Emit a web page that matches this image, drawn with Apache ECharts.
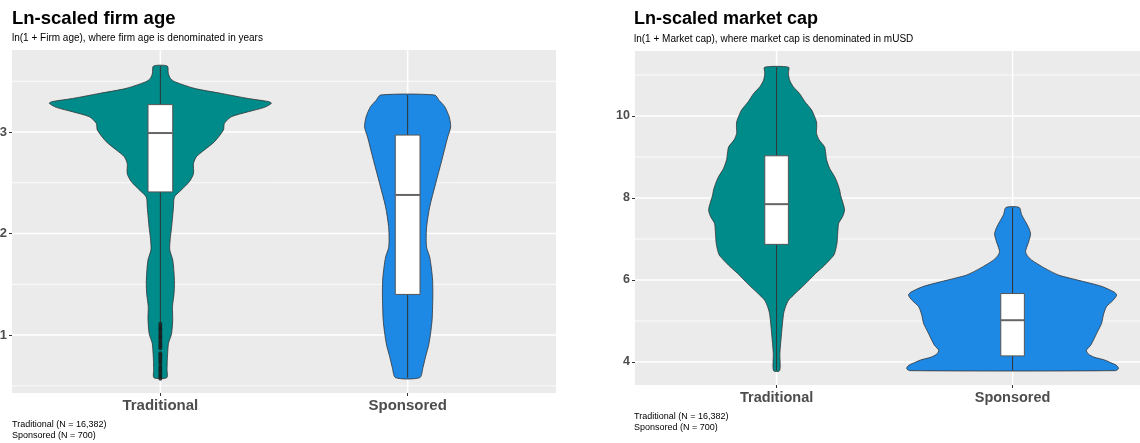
<!DOCTYPE html>
<html>
<head>
<meta charset="utf-8">
<script src="https://cdn.jsdelivr.net/npm/echarts@6/dist/echarts.min.js"></script>
<style>
  html, body { margin: 0; padding: 0; background: #fff; }
  #chart { width: 1140px; height: 443px; }
</style>
</head>
<body>
<div id="chart"></div>
<script>
// Groups compared in both panels
const groups = ['Traditional', 'Sponsored'];
const groupColors = ['#008B8B', '#1E88E5'];

// Axis ticks
const ageTicks = [1, 2, 3];
const ageMinorTicks = [0.5, 1.5, 2.5, 3.5];
const capTicks = [4, 6, 8, 10];
const capMinorTicks = [5, 7, 9, 11];

// Violin outlines: [value, half-width of the density in category units]
const ageTraditionalViolin = [
  [0.58, 0.026], [0.66, 0.027], [0.75, 0.028], [0.84, 0.030], [0.92, 0.033], [1.01, 0.045],
  [1.15, 0.050], [1.28, 0.049], [1.40, 0.055], [1.51, 0.057], [1.62, 0.055], [1.74, 0.050],
  [1.84, 0.038], [1.95, 0.040], [2.05, 0.045], [2.15, 0.049], [2.26, 0.053], [2.36, 0.057],
  [2.43, 0.085], [2.51, 0.117], [2.59, 0.134], [2.69, 0.134], [2.757, 0.146], [2.823, 0.178],
  [2.905, 0.219], [3.02, 0.255], [3.085, 0.259], [3.15, 0.287], [3.20, 0.356], [3.243, 0.421],
  [3.283, 0.449], [3.30, 0.437], [3.33, 0.356], [3.38, 0.247], [3.43, 0.138], [3.496, 0.058],
  [3.53, 0.040], [3.58, 0.032], [3.65, 0.028]
];
const ageSponsoredViolin = [
  [0.58, 0.049], [0.68, 0.062], [0.79, 0.073], [0.90, 0.085], [1.02, 0.093], [1.15, 0.099],
  [1.28, 0.101], [1.40, 0.102], [1.54, 0.101], [1.66, 0.096], [1.77, 0.089], [1.86, 0.077],
  [1.95, 0.075], [2.07, 0.077], [2.26, 0.089], [2.49, 0.113], [2.72, 0.138], [2.95, 0.162],
  [3.05, 0.174], [3.15, 0.168], [3.25, 0.150], [3.31, 0.128], [3.365, 0.109]
];
const capTraditionalViolin = [
  [3.79, 0.013], [4.21, 0.014], [4.70, 0.021], [5.00, 0.026], [5.19, 0.030], [5.35, 0.038],
  [5.51, 0.051], [5.68, 0.080], [5.84, 0.110], [6.00, 0.138], [6.16, 0.165], [6.33, 0.198],
  [6.49, 0.225], [6.61, 0.243], [6.73, 0.250], [6.90, 0.256], [7.06, 0.258], [7.22, 0.260],
  [7.38, 0.263], [7.55, 0.280], [7.71, 0.288], [7.90, 0.280], [8.05, 0.272], [8.20, 0.267],
  [8.36, 0.258], [8.52, 0.246], [8.72, 0.225], [8.93, 0.212], [9.10, 0.208], [9.25, 0.203],
  [9.42, 0.180], [9.58, 0.169], [9.72, 0.170], [9.86, 0.169], [10.00, 0.160], [10.15, 0.148],
  [10.35, 0.120], [10.55, 0.097], [10.72, 0.070], [10.88, 0.055], [11.05, 0.050], [11.19, 0.051]
];
const capSponsoredViolin = [
  [3.79, 0.436], [3.84, 0.449], [3.92, 0.440], [4.00, 0.410], [4.05, 0.390], [4.12, 0.345],
  [4.20, 0.320], [4.29, 0.313], [4.40, 0.330], [4.54, 0.343], [4.74, 0.360], [4.94, 0.377],
  [5.15, 0.385], [5.35, 0.398], [5.50, 0.425], [5.63, 0.441], [5.70, 0.432], [5.84, 0.380],
  [5.95, 0.310], [6.05, 0.240], [6.12, 0.195], [6.29, 0.136], [6.49, 0.080], [6.60, 0.062],
  [6.69, 0.055], [6.80, 0.060], [6.93, 0.068], [7.05, 0.074], [7.14, 0.076], [7.28, 0.068],
  [7.42, 0.055], [7.60, 0.038], [7.77, 0.028]
];

// Box summaries: [lower whisker, Q1, median, Q3, upper whisker]
const ageTraditionalBox = [1.12, 2.41, 2.99, 3.27, 3.65];
const ageSponsoredBox = [0.58, 1.40, 2.38, 2.97, 3.365];
const capTraditionalBox = [3.79, 6.87, 7.85, 9.03, 11.19];
const capSponsoredBox = [3.79, 4.15, 5.02, 5.67, 7.77];

// Points beyond the lower whisker (Traditional firm age)
const ageTraditionalOutliers = [
  1.11, 1.09, 1.07, 1.06, 1.04, 1.02, 1.00, 0.98, 0.97, 0.95, 0.93, 0.91, 0.89, 0.87,
  0.82, 0.80, 0.78, 0.76, 0.74, 0.72, 0.69, 0.67, 0.65, 0.63, 0.61, 0.59, 0.57
];

const panels = [
  {
    violins: [ageTraditionalViolin, ageSponsoredViolin],
    boxes: [ageTraditionalBox, ageSponsoredBox],
    ticks: ageTicks, minor: ageMinorTicks,
    yMin: 0.429, yMax: 3.808, xMax: 2.6,
    grid: { left: 12, top: 50, right: 584, bottom: 50 },
    tickFont: 13, catFont: 15
  },
  {
    violins: [capTraditionalViolin, capSponsoredViolin],
    boxes: [capTraditionalBox, capSponsoredBox],
    ticks: capTicks, minor: capMinorTicks,
    yMin: 3.44, yMax: 11.585, xMax: 2.54,
    grid: { left: 635, top: 51, right: 0, bottom: 58 },
    tickFont: 12.5, catFont: 14.5
  }
];

const FONT = '"Liberation Sans", Arial, sans-serif';
const catPositions = groups.map((_, i) => i + 1);

function gridLinesItem(params, api) {
  const cs = params.coordSys;
  const val = api.value(0), kind = api.value(1);
  if (kind === 2) {
    const x = api.coord([val, 0])[0];
    return { type: 'line', shape: { x1: x, y1: cs.y, x2: x, y2: cs.y + cs.height },
      style: { stroke: '#ffffff', lineWidth: 1.5 } };
  }
  const y = api.coord([1, val])[1];
  return { type: 'line', shape: { x1: cs.x, y1: y, x2: cs.x + cs.width, y2: y },
    style: { stroke: '#ffffff', lineWidth: kind === 0 ? 1.5 : 0.8 } };
}

function violinItem(profiles) {
  return function (params, api) {
    const g = api.value(0);
    const prof = profiles[g];
    const cx = g + 1;
    const right = prof.map(([v, w]) => api.coord([cx + w, v]));
    const left = prof.slice().reverse().map(([v, w]) => api.coord([cx - w, v]));
    return {
      type: 'polygon',
      shape: { points: right.concat(left), smooth: 0.25 },
      style: { fill: groupColors[g], stroke: '#333333', lineWidth: 0.8 }
    };
  };
}

function boxItem(stats) {
  return function (params, api) {
    const g = api.value(0);
    const [lo, q1, med, q3, hi] = stats[g];
    const cx = g + 1, hw = 0.05;
    const top = api.coord([cx, hi]), bot = api.coord([cx, lo]);
    const a = api.coord([cx - hw, q3]), b = api.coord([cx + hw, q1]);
    const m1 = api.coord([cx - hw, med]), m2 = api.coord([cx + hw, med]);
    return {
      type: 'group',
      children: [
        { type: 'line', shape: { x1: top[0], y1: top[1], x2: bot[0], y2: bot[1] },
          style: { stroke: '#333333', lineWidth: 1 } },
        { type: 'rect', shape: { x: a[0], y: a[1], width: b[0] - a[0], height: b[1] - a[1] },
          style: { fill: '#ffffff', stroke: '#555555', lineWidth: 1 } },
        { type: 'line', shape: { x1: m1[0], y1: m1[1], x2: m2[0], y2: m2[1] },
          style: { stroke: '#666666', lineWidth: 2 } }
      ]
    };
  };
}

const option = {
  animation: false,
  backgroundColor: '#ffffff',
  grid: panels.map(p => Object.assign({
    show: true, backgroundColor: '#EBEBEB', borderWidth: 0,
    containLabel: false, outerBoundsMode: 'none'
  }, p.grid)),
  xAxis: panels.map((p, i) => ({
    type: 'value', gridIndex: i, min: 0.4, max: p.xMax,
    axisLine: { show: false },
    splitLine: { show: false },
    axisTick: { show: true, customValues: catPositions, length: 3, lineStyle: { color: '#333333', width: 1 } },
    axisLabel: {
      customValues: catPositions, margin: 5,
      formatter: v => groups[Math.round(v) - 1] || '',
      fontFamily: FONT, fontWeight: 'bold', fontSize: p.catFont, color: '#4D4D4D'
    }
  })),
  yAxis: panels.map((p, i) => ({
    type: 'value', gridIndex: i, min: p.yMin, max: p.yMax,
    axisLine: { show: false },
    splitLine: { show: false },
    axisTick: { show: true, customValues: p.ticks, length: 3, lineStyle: { color: '#333333', width: 1 } },
    axisLabel: {
      customValues: p.ticks, margin: 5,
      fontFamily: FONT, fontWeight: 'bold', fontSize: p.tickFont, color: '#4D4D4D'
    }
  })),
  series: []
};

panels.forEach((p, i) => {
  const gridData = p.ticks.map(v => [v, 0])
    .concat(p.minor.map(v => [v, 1]))
    .concat(catPositions.map(v => [v, 2]));
  option.series.push({
    type: 'custom', xAxisIndex: i, yAxisIndex: i, z: 1, silent: true,
    renderItem: gridLinesItem, data: gridData, encode: { x: 0 }
  });
  option.series.push({
    type: 'custom', xAxisIndex: i, yAxisIndex: i, z: 2, silent: true,
    renderItem: violinItem(p.violins), data: groups.map((_, g) => [g]), encode: { x: 0 }
  });
  option.series.push({
    type: 'custom', xAxisIndex: i, yAxisIndex: i, z: 3, silent: true,
    renderItem: boxItem(p.boxes), data: groups.map((_, g) => [g]), encode: { x: 0 }
  });
});

option.series.push({
  type: 'scatter', xAxisIndex: 0, yAxisIndex: 0, z: 4, silent: true,
  symbolSize: 4, itemStyle: { color: '#1a1a1a' },
  data: ageTraditionalOutliers.map(v => [1, v])
});

const textStyle = (size, weight) => ({ fontFamily: FONT, fontSize: size, fontWeight: weight, fill: '#000000' });
option.graphic = [
  { type: 'text', x: 12, y: 19, style: Object.assign({ text: 'Ln-scaled firm age', verticalAlign: 'middle' }, textStyle(18.5, 'bold')) },
  { type: 'text', x: 12, y: 38, style: Object.assign({ text: 'ln(1 + Firm age), where firm age is denominated in years', verticalAlign: 'middle' }, textStyle(10, 'normal')) },
  { type: 'text', x: 12, y: 425, style: Object.assign({ text: 'Traditional (N = 16,382)', verticalAlign: 'middle' }, textStyle(9, 'normal')) },
  { type: 'text', x: 12, y: 436, style: Object.assign({ text: 'Sponsored (N = 700)', verticalAlign: 'middle' }, textStyle(9, 'normal')) },
  { type: 'text', x: 634, y: 19, style: Object.assign({ text: 'Ln-scaled market cap', verticalAlign: 'middle' }, textStyle(18, 'bold')) },
  { type: 'text', x: 634, y: 39, style: Object.assign({ text: 'ln(1 + Market cap), where market cap is denominated in mUSD', verticalAlign: 'middle' }, textStyle(10, 'normal')) },
  { type: 'text', x: 634, y: 417, style: Object.assign({ text: 'Traditional (N = 16,382)', verticalAlign: 'middle' }, textStyle(9, 'normal')) },
  { type: 'text', x: 634, y: 428, style: Object.assign({ text: 'Sponsored (N = 700)', verticalAlign: 'middle' }, textStyle(9, 'normal')) }
];

const chart = echarts.init(document.getElementById('chart'), null, { renderer: 'canvas' });
chart.setOption(option);
</script>
</body>
</html>
